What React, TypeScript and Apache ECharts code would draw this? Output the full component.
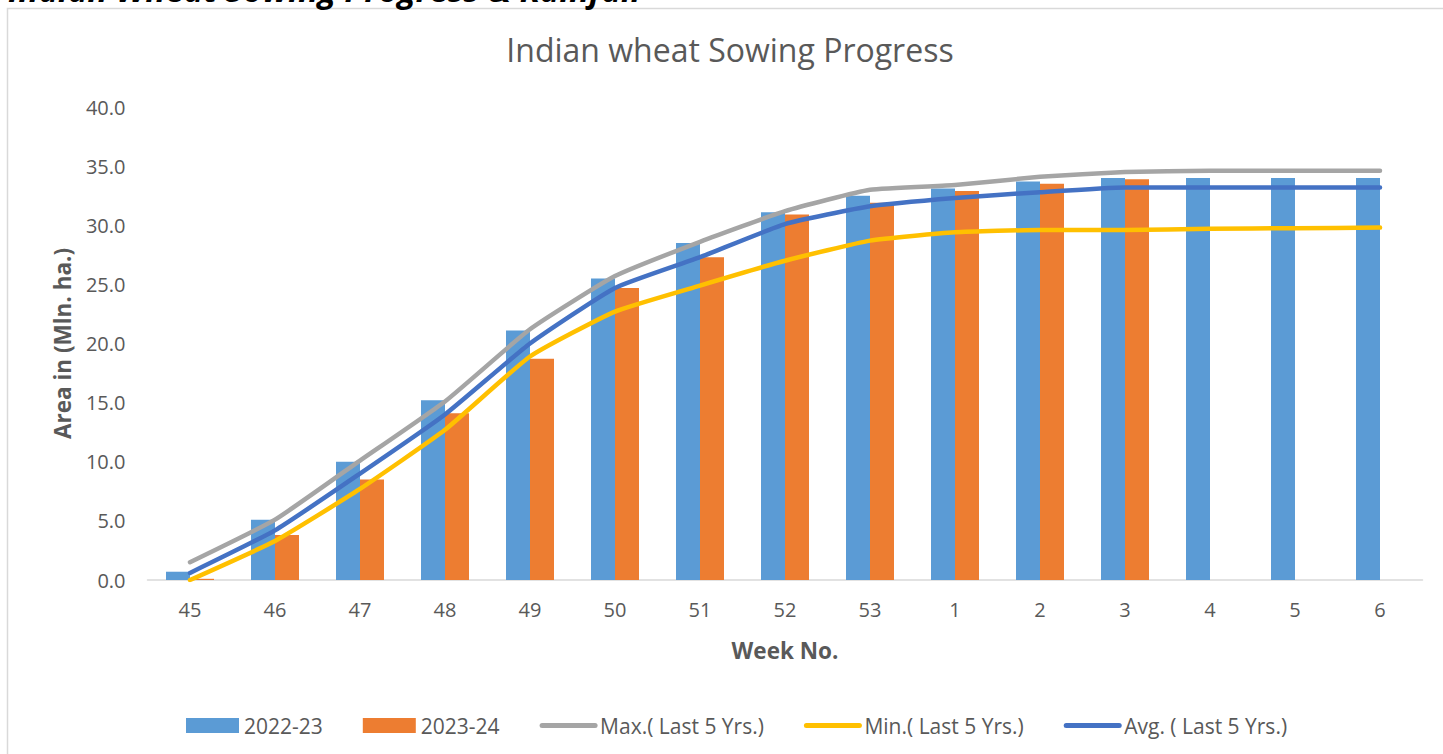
import React, { useEffect, useRef } from "react";
import * as echarts from "echarts";

const weeks = ["45", "46", "47", "48", "49", "50", "51", "52", "53", "1", "2", "3", "4", "5", "6"];
const s2022_23 = [0.7, 5.1, 10.0, 15.2, 21.1, 25.5, 28.5, 31.1, 32.5, 33.1, 33.7, 34.0, 34.0, 34.0, 34.0];
const s2023_24 = [0.1, 3.8, 8.5, 14.1, 18.7, 24.7, 27.3, 30.9, 31.9, 32.9, 33.5, 33.9, null, null, null];
const maxLast5 = [1.5, 5.1, 10.1, 15.1, 21.2, 25.7, 28.6, 31.2, 33.0, 33.4, 34.1, 34.5, 34.6, 34.6, 34.6];
const minLast5 = [0.0, 3.3, 7.7, 12.7, 18.9, 22.7, 24.9, 27.0, 28.7, 29.4, 29.6, 29.6, 29.7, 29.75, 29.8];
const avgLast5 = [0.6, 4.2, 9.0, 14.0, 20.0, 24.7, 27.3, 30.1, 31.6, 32.3, 32.8, 33.2, 33.2, 33.2, 33.2];
const yTicks = { min: 0, max: 40, interval: 5 };

const FONT = "'Open Sans', 'Noto Sans', sans-serif";
const GREY_TEXT = "#595959";

export default function App() {
  const ref = useRef<HTMLDivElement>(null);
  useEffect(() => {
    if (!ref.current) return;
    const chart = echarts.init(ref.current, undefined, { renderer: "svg" });
    const lineSeries = (name: string, data: number[], color: string) => ({
      name,
      type: "line",
      data,
      symbol: "none",
      smooth: 0.15,
      z: 3,
      lineStyle: { color, width: 4.5, cap: "round", join: "round" },
      itemStyle: { color },
    });
    const lineLegend = (name: string) => ({
      name,
      itemStyle: { opacity: 0 },
      lineStyle: { width: 5, cap: "round" },
    });
    chart.setOption({
      animation: false,
      backgroundColor: "#ffffff",
      textStyle: { fontFamily: FONT },
      graphic: [
        {
          type: "rect",
          silent: true,
          z: -10,
          shape: { x: 7.5, y: 8.5, width: 1500, height: 800 },
          style: { fill: "none", stroke: "#d9d9d9", lineWidth: 1.5 },
        },
        {
          type: "text",
          silent: true,
          x: 8,
          y: 6,
          style: {
            text: "Indian Wheat Sowing Progress & Rainfall",
            font: "italic bold 33px " + FONT,
            fill: "#000000",
            verticalAlign: "bottom",
          },
        },
        {
          type: "text",
          silent: true,
          x: 730,
          y: 33,
          style: {
            text: "Indian wheat Sowing Progress",
            font: "32px " + FONT,
            fill: GREY_TEXT,
            align: "center",
            verticalAlign: "top",
          },
        },
      ],
      legend: {
        left: 181,
        top: 710,
        itemWidth: 53,
        itemHeight: 15,
        itemGap: 40,
        textStyle: { fontSize: 21, color: GREY_TEXT, fontFamily: FONT },
        data: [
          { name: "2022-23", icon: "rect" },
          { name: "2023-24", icon: "rect" },
          lineLegend("Max.( Last 5 Yrs.)"),
          lineLegend("Min.( Last 5 Yrs.)"),
          lineLegend("Avg. ( Last 5 Yrs.)"),
        ],
      },
      grid: { left: 147.5, right: 20.5, top: 107, bottom: 174, containLabel: false },
      xAxis: {
        type: "category",
        data: weeks,
        axisLine: { lineStyle: { color: "#d9d9d9", width: 1.5 } },
        axisTick: { show: false },
        axisLabel: { color: GREY_TEXT, fontSize: 20, margin: 19, fontFamily: FONT },
        name: "Week No.",
        nameLocation: "middle",
        nameGap: 59,
        nameTextStyle: { color: GREY_TEXT, fontSize: 22.5, fontWeight: "bold", fontFamily: FONT },
      },
      yAxis: {
        type: "value",
        min: yTicks.min,
        max: yTicks.max,
        interval: yTicks.interval,
        splitLine: { show: false },
        axisLine: { show: false },
        axisTick: { show: false },
        axisLabel: {
          color: GREY_TEXT,
          fontSize: 20,
          margin: 22,
          fontFamily: FONT,
          formatter: (v: number) => v.toFixed(1),
        },
        name: "Area in (Mln. ha.)",
        nameLocation: "middle",
        nameGap: 74,
        nameTextStyle: { color: GREY_TEXT, fontSize: 22.5, fontWeight: "bold", fontFamily: FONT },
      },
      series: [
        {
          name: "2022-23",
          type: "bar",
          data: s2022_23,
          barWidth: 24,
          barGap: "0%",
          itemStyle: { color: "#5B9BD5" },
        },
        {
          name: "2023-24",
          type: "bar",
          data: s2023_24,
          barWidth: 24,
          barGap: "0%",
          itemStyle: { color: "#ED7D31" },
        },
        lineSeries("Max.( Last 5 Yrs.)", maxLast5, "#A5A5A5"),
        lineSeries("Min.( Last 5 Yrs.)", minLast5, "#FFC000"),
        lineSeries("Avg. ( Last 5 Yrs.)", avgLast5, "#4472C4"),
      ],
    });
    return () => chart.dispose();
  }, []);
  return (
    <div
      ref={ref}
      style={{ position: "fixed", left: 0, top: 0, width: 1443, height: 754, background: "#fff" }}
    />
  );
}
